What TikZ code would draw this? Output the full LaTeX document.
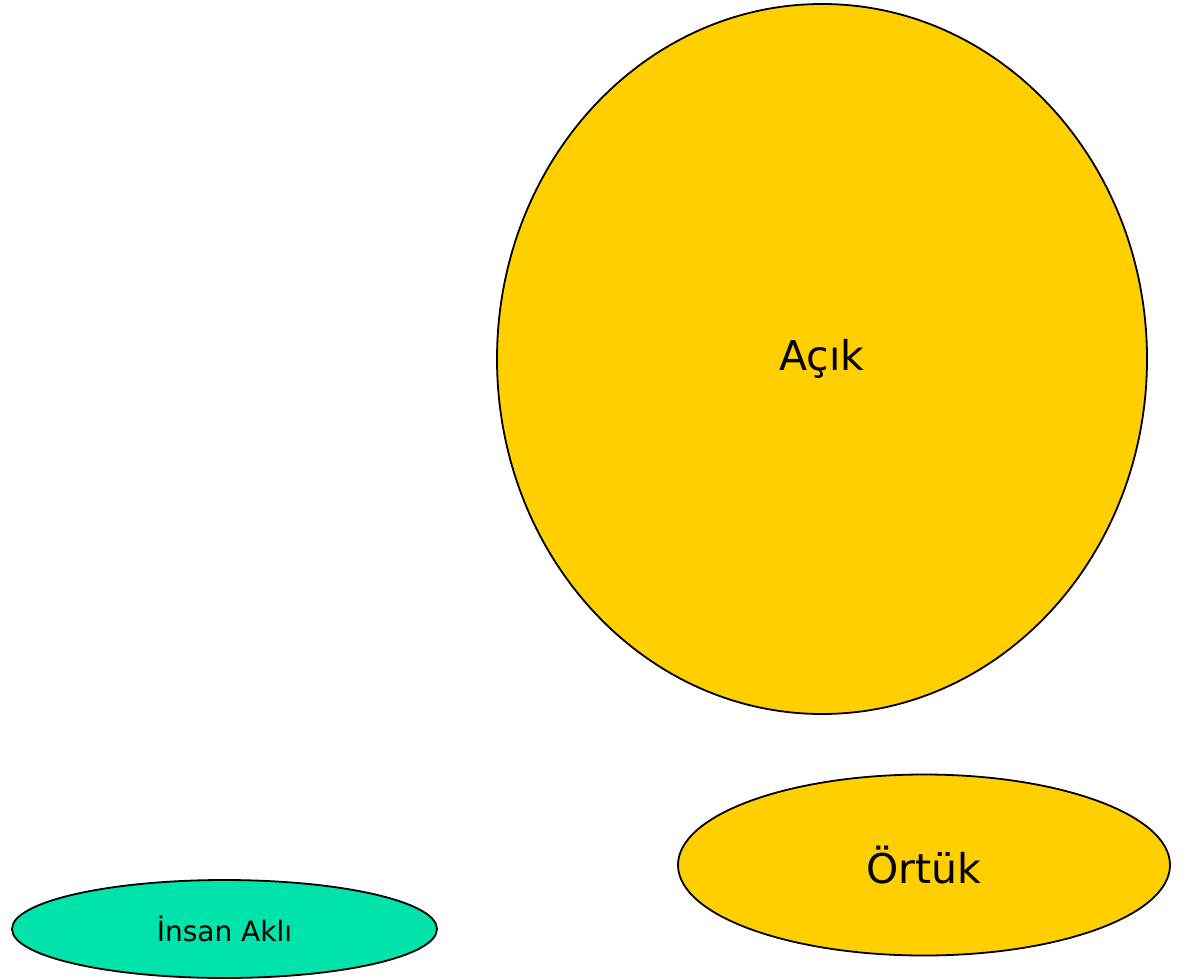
\documentclass[tikz,border=0pt]{standalone}
\usepackage{fontspec}
\setmainfont{DejaVu Sans}
\usetikzlibrary{shapes.geometric}
\definecolor{sunyellow}{HTML}{FFCF00}
\definecolor{mintgreen}{HTML}{00E3AA}
\tikzset{
  blob/.style={ellipse, draw=black, line width=1.8pt, inner sep=0pt, outer sep=0pt, text=black}
}
\begin{document}
\begin{tikzpicture}[x=1pt, y=-1pt]
  \useasboundingbox (0,0) rectangle (1185,979);
  % large open-knowledge ellipse
  \node[blob, fill=sunyellow, minimum width=650pt, minimum height=710pt,
        font=\fontsize{41}{48}\selectfont] (acik) at (822,359) {\raisebox{-4pt}{Açık}};
  % tacit-knowledge ellipse
  \node[blob, fill=sunyellow, minimum width=492pt, minimum height=181pt,
        font=\fontsize{41}{48}\selectfont] (ortuk) at (924,865) {Örtük};
  % human mind
  \node[blob, fill=mintgreen, minimum width=425pt, minimum height=98pt,
        font=\fontsize{28}{33}\selectfont] (akil) at (224.5,929) {İnsan Aklı};
\end{tikzpicture}
\end{document}
